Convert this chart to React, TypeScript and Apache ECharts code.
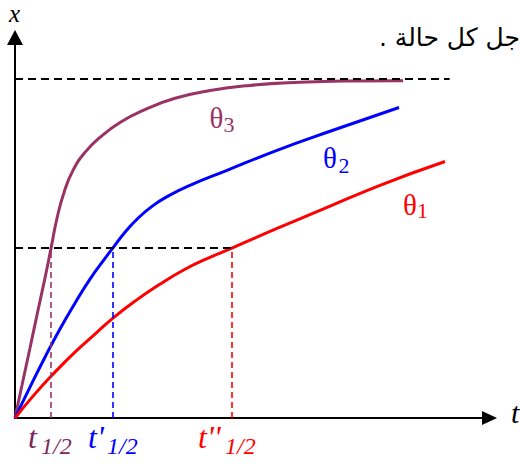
import React, { useEffect, useRef } from "react";
import * as echarts from "echarts";

// time (arbitrary units) and extent x (fraction of the final value)
const theta3T = [0, 0.148, 0.316, 0.485, 0.632, 0.76, 0.885, 1.033, 1.222, 1.475, 1.791, 2.213, 2.74, 3.372, 4.11, 4.953, 6.006, 7.06, 8.177];
const theta3X = [0, 0.097, 0.206, 0.317, 0.412, 0.5, 0.588, 0.664, 0.729, 0.782, 0.826, 0.87, 0.908, 0.941, 0.964, 0.979, 0.988, 0.992, 0.993];

const theta2T = [0, 0.316, 0.632, 0.948, 1.264, 1.581, 1.897, 2.06, 2.318, 2.592, 2.887, 3.224, 3.688, 4.468, 5.522, 6.639, 8.093];
const theta2X = [0, 0.091, 0.179, 0.262, 0.338, 0.409, 0.47, 0.5, 0.547, 0.588, 0.623, 0.653, 0.685, 0.729, 0.788, 0.844, 0.914];

const theta1T = [0, 0.421, 0.843, 1.264, 1.686, 2.065, 2.529, 3.056, 3.583, 4.11, 4.57, 5.522, 6.428, 7.692, 9.062];
const theta1X = [0, 0.071, 0.135, 0.194, 0.247, 0.294, 0.344, 0.394, 0.438, 0.473, 0.5, 0.558, 0.611, 0.685, 0.755];

const halfTimes = [0.76, 2.06, 4.57]; // t1/2, t'1/2, t''1/2
const finalValue = 1;
const halfValue = 0.5;
const plateauLineEnd = 9.16;

const seriesNames = ["θ3", "θ2", "θ1"];
const colors = ["#993366", "#0000ff", "#ff0000"];
const halfLabelColors = ["#7b2a5c", "#0000ff", "#ff0000"];
const halfLabelPrimes = ["t", "t'", "t''"];
const captionText = ". جل كل حالة";

const zip = (a: number[], b: number[]) => a.map((v, i) => [v, b[i]]);

export default function App() {
  const ref = useRef<HTMLDivElement>(null);
  useEffect(() => {
    if (!ref.current) return;
    const chart = echarts.init(ref.current, undefined, { renderer: "svg" });
    const serif = "Liberation Serif, serif";
    const curveData = [zip(theta3T, theta3X), zip(theta2T, theta2X), zip(theta1T, theta1X)];

    const thetaPos = [
      { tx: 216.5, ty: 117.5, sx: 229, sy: 124.5, sub: "3" },
      { tx: 330, ty: 157.5, sx: 344, sy: 165, sub: "2" },
      { tx: 410, ty: 205, sx: 422.5, sy: 210.5, sub: "1" },
    ];
    const halfPos = [
      { tx: 28, sx: 41 },
      { tx: 88, sx: 107 },
      { tx: 198, sx: 225 },
    ];

    const txt = (x: number, y: number, text: string, size: number, fill: string, align: string, italic = false, family = serif) => ({
      type: "text", x, y, silent: true,
      style: { text, fontSize: size, fontFamily: family, fontStyle: italic ? "italic" : "normal", fill, align, verticalAlign: "middle" },
    });

    const graphics: any[] = [];
    thetaPos.forEach((p, i) => {
      graphics.push(txt(p.tx, p.ty, "θ", 29, colors[i], "center"));
      graphics.push(txt(p.sx, p.sy, p.sub, 22, colors[i], "center"));
    });
    halfPos.forEach((p, i) => {
      graphics.push(txt(p.tx, 437, halfLabelPrimes[i], 32, halfLabelColors[i], "left", true));
      graphics.push(txt(p.sx, 446, "1/2", 24, halfLabelColors[i], "left", true));
    });
    graphics.push(txt(14.5, 13, "x", 25, "#000", "center", true));
    graphics.push(txt(511, 412.5, "t", 30, "#000", "left", true));
    graphics.push(txt(520, 37, captionText, 25, "#000", "right", false, "DejaVu Sans"));

    const dashedBlack = { type: [8, 5], width: 2, color: "#000" };

    const option: any = {
      animation: false,
      grid: { left: 15, right: 30.5, top: 37.5, bottom: 48 },
      xAxis: {
        type: "value", min: 0, max: 10,
        axisLine: { show: true, onZero: false, symbol: ["none", "triangle"], symbolSize: [14, 15], lineStyle: { color: "#000", width: 2 } },
        axisTick: { show: false }, axisLabel: { show: false }, splitLine: { show: false },
      },
      yAxis: {
        type: "value", min: 0, max: 1.12,
        axisLine: { show: true, onZero: false, symbol: ["none", "triangle"], symbolSize: [16, 15], lineStyle: { color: "#000", width: 2 } },
        axisTick: { show: false }, axisLabel: { show: false }, splitLine: { show: false },
      },
      series: [
        {
          type: "line", data: [], silent: true, z: 1,
          markLine: {
            silent: true, symbol: "none", label: { show: false },
            lineStyle: dashedBlack,
            data: [
              [{ coord: [0, finalValue] }, { coord: [plateauLineEnd, finalValue] }],
              [{ coord: [0, halfValue] }, { coord: [halfTimes[2], halfValue] }],
              ...halfTimes.map((t, i) => [
                { coord: [t, 0], lineStyle: { type: [6, 4], width: 1.6, color: colors[i] } },
                { coord: [t, halfValue] },
              ]),
            ],
          },
        },
        ...curveData.map((d, i) => ({
          name: seriesNames[i], type: "line", data: d, z: 3,
          showSymbol: false, smooth: 0.5, silent: true,
          lineStyle: { color: colors[i], width: 3 },
        })),
      ],
      graphic: graphics,
    };
    chart.setOption(option);
    return () => chart.dispose();
  }, []);
  return <div ref={ref} style={{ position: "absolute", left: 0, top: 0, width: 520, height: 466, background: "#fff" }} />;
}
